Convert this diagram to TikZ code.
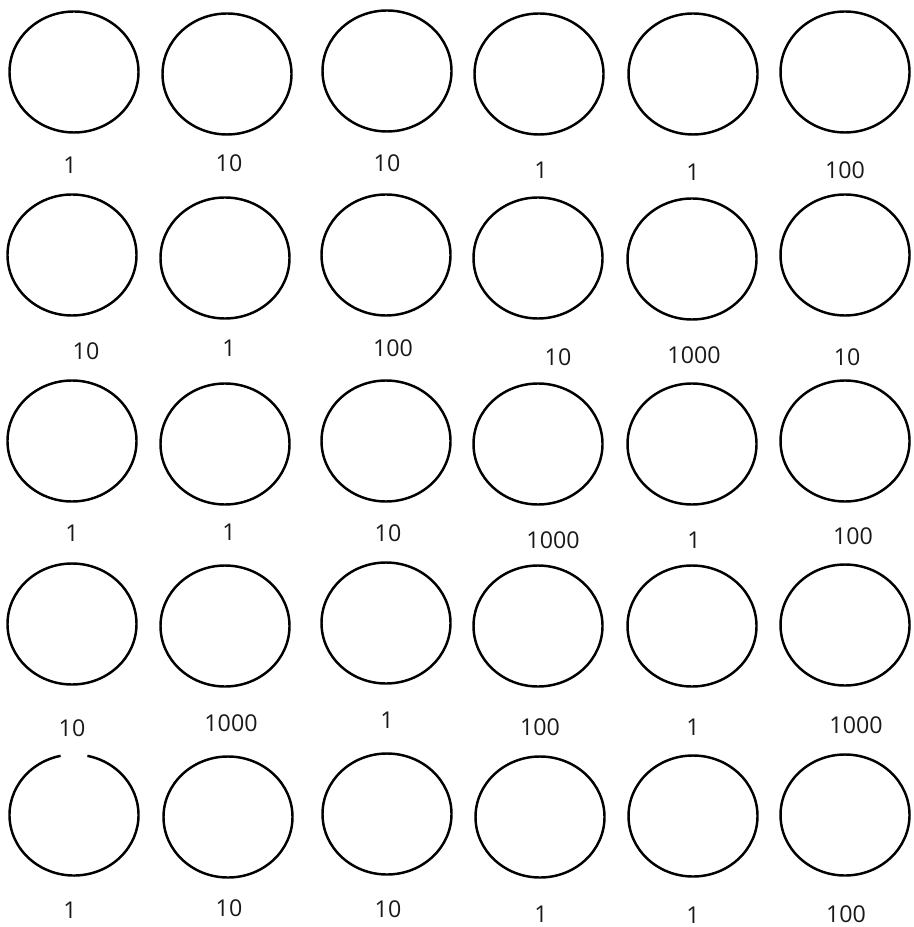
\documentclass[tikz,border=0pt]{standalone}
\usepackage{fontspec}
\setmainfont{Open Sans}
\usepackage{tikz}
\usetikzlibrary{shapes.geometric}

\begin{document}
\begin{tikzpicture}[
			x=0.2mm, y=-0.2mm,
			ring/.style={draw, ellipse, line width=1.4pt, minimum width=2.58cm,
				minimum height=2.42cm, inner sep=0pt},
			num/.style={inner sep=0pt, text=black!90, font=\fontsize{13.2}{15}\selectfont}
			]
			\useasboundingbox (0,0) rectangle (914,927);

			% row 1
			\node[ring] (c11) at (74,72) {};
			\node[ring] (c12) at (227,74) {};
			\node[ring] (c13) at (387,71) {};
			\node[ring] (c14) at (539,74) {};
			\node[ring] (c15) at (693,74) {};
			\node[ring] (c16) at (845,72) {};
			\node[num] (n11) at (70,165) {1};
			\node[num] (n12) at (229,163) {10};
			\node[num] (n13) at (387,163) {10};
			\node[num] (n14) at (541,170) {1};
			\node[num] (n15) at (693,172) {1};
			\node[num] (n16) at (845,170) {100};

			% row 2
			\node[ring] (c21) at (72,255) {};
			\node[ring] (c22) at (225,258) {};
			\node[ring] (c23) at (386,255) {};
			\node[ring] (c24) at (538,258) {};
			\node[ring] (c25) at (692,259) {};
			\node[ring] (c26) at (845,255) {};
			\node[num] (n21) at (86,351) {10};
			\node[num] (n22) at (229,348) {1};
			\node[num] (n23) at (393,348) {100};
			\node[num] (n24) at (558,357) {10};
			\node[num] (n25) at (694,355) {1000};
			\node[num] (n26) at (847,357) {10};

			% row 3
			\node[ring] (c31) at (72,441) {};
			\node[ring] (c32) at (225,444) {};
			\node[ring] (c33) at (386,441) {};
			\node[ring] (c34) at (538,444) {};
			\node[ring] (c35) at (692,444) {};
			\node[ring] (c36) at (845,441) {};
			\node[num] (n31) at (72,533) {1};
			\node[num] (n32) at (229,532) {1};
			\node[num] (n33) at (388,533) {10};
			\node[num] (n34) at (553,540) {1000};
			\node[num] (n35) at (694,540) {1};
			\node[num] (n36) at (853,536) {100};

			% row 4
			\node[ring] (c41) at (72,624) {};
			\node[ring] (c42) at (225,626) {};
			\node[ring] (c43) at (386,623) {};
			\node[ring] (c44) at (538,626) {};
			\node[ring] (c45) at (692,626) {};
			\node[ring] (c46) at (845,625) {};
			\node[num] (n41) at (72,728) {10};
			\node[num] (n42) at (231,723) {1000};
			\node[num] (n43) at (387,720) {1};
			\node[num] (n44) at (540,727) {100};
			\node[num] (n45) at (693,727) {1};
			\node[num] (n46) at (856,725) {1000};

			% row 5 (first ring has a small gap on top)
			\node[ring, draw=none] (c51) at (74,815) {};
			\draw[line width=1.4pt] ([shift={(102:1.29cm and 1.21cm)}]c51.center)
				arc[start angle=102, end angle=438, x radius=1.29cm, y radius=1.21cm];
			\node[ring] (c52) at (228,817) {};
			\node[ring] (c53) at (387,814) {};
			\node[ring] (c54) at (540,817) {};
			\node[ring] (c55) at (693,816) {};
			\node[ring] (c56) at (845,815) {};
			\node[num] (n51) at (70,910) {1};
			\node[num] (n52) at (229,908) {10};
			\node[num] (n53) at (388,909) {10};
			\node[num] (n54) at (541,914) {1};
			\node[num] (n55) at (693,915) {1};
			\node[num] (n56) at (846,914) {100};
		\end{tikzpicture}
\end{document}
